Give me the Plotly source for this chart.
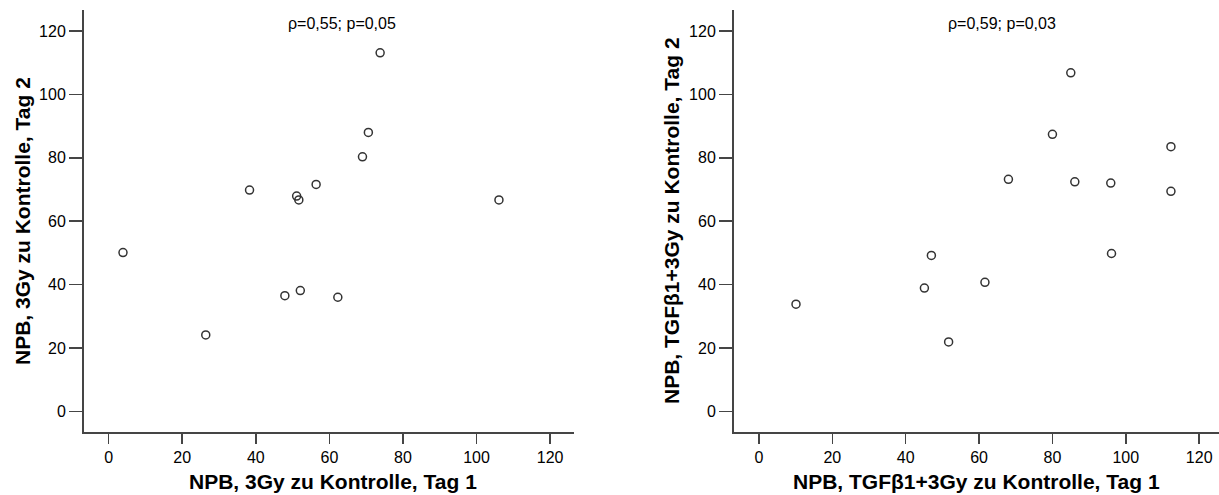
import plotly.graph_objects as go

# ---- data ----
left_x = [3.9, 26.4, 38.3, 47.9, 51.1, 51.7, 52.1, 56.4, 62.3, 69.0, 70.6, 73.8, 106.1]
left_y = [50.1, 24.1, 69.8, 36.5, 67.9, 66.7, 38.1, 71.6, 36.0, 80.3, 88.0, 113.1, 66.7]

right_x = [10.1, 45.1, 47.0, 51.7, 61.6, 68.0, 80.0, 85.0, 86.1, 95.9, 96.1, 112.3, 112.3]
right_y = [33.8, 38.9, 49.2, 21.9, 40.7, 73.2, 87.4, 106.8, 72.4, 72.0, 49.8, 83.5, 69.4]

tick_vals = [0, 20, 40, 60, 80, 100, 120]
tick_text = ["0", "20", "40", "60", "80", "100", "120"]

left_xtitle = "NPB, 3Gy zu Kontrolle, Tag 1"
left_ytitle = "NPB, 3Gy zu Kontrolle, Tag 2"
right_xtitle = "NPB, TGFβ1+3Gy zu Kontrolle, Tag 1"
right_ytitle = "NPB, TGFβ1+3Gy zu Kontrolle, Tag 2"
left_stat = "ρ=0,55; p=0,05"
right_stat = "ρ=0,59; p=0,03"

W, H = 1219, 495
FONT = "Arial, Liberation Sans, sans-serif"
AX = "#454545"
MK = "#333333"


def px(xp):
    return xp / W


def py(yp):
    return (H - yp) / H


fig = go.Figure()
marker = dict(symbol="circle-open", size=8, color=MK, line=dict(width=1.5, color=MK))
fig.add_trace(go.Scatter(x=left_x, y=left_y, mode="markers", marker=marker,
                         xaxis="x", yaxis="y", showlegend=False))
fig.add_trace(go.Scatter(x=right_x, y=right_y, mode="markers", marker=marker,
                         xaxis="x2", yaxis="y2", showlegend=False))

common = dict(showline=True, linecolor=AX, linewidth=2, ticks="outside",
              tickcolor=AX, tickwidth=1.5, showgrid=False, zeroline=False,
              tickvals=tick_vals, ticktext=tick_text,
              tickfont=dict(family=FONT, size=16, color="#000"),
              automargin=False, fixedrange=True)

ydom = [py(432), py(10)]
yrange = [-6.5, 126.6]

fig.update_layout(
    width=W, height=H, autosize=False,
    margin=dict(l=0, r=0, t=0, b=0),
    paper_bgcolor="white", plot_bgcolor="white",
    xaxis=dict(domain=[px(84), px(574)], range=[-6.7, 126.5], anchor="y",
               ticklen=10, **common),
    yaxis=dict(domain=ydom, range=yrange, anchor="x", ticklen=13, **common),
    xaxis2=dict(domain=[px(734), 1.0], range=[-6.8, 125.4], anchor="y2",
                ticklen=10, **common),
    yaxis2=dict(domain=ydom, range=yrange, anchor="x2", ticklen=13, **common),
)

tfont = dict(family=FONT, size=21, color="#000")
sfont = dict(family=FONT, size=16, color="#000")
ann = [
    dict(text="<b>" + left_xtitle + "</b>", x=px(333), y=py(481), font=tfont),
    dict(text="<b>" + right_xtitle + "</b>", x=px(976), y=py(481), font=tfont),
    dict(text="<b>" + left_ytitle + "</b>", x=px(22), y=py(221), font=tfont, textangle=-90),
    dict(text="<b>" + right_ytitle + "</b>", x=px(671), y=py(221), font=tfont, textangle=-90),
    dict(text=left_stat, x=px(342), y=py(24), font=sfont),
    dict(text=right_stat, x=px(1002), y=py(24), font=sfont),
]
for a in ann:
    a.update(xref="paper", yref="paper", showarrow=False,
             xanchor="center", yanchor="middle")
fig.update_layout(annotations=ann)

fig.write_html(
    "out.html",
    config={"displayModeBar": False, "staticPlot": True},
    post_script="document.body.style.margin='0';document.body.style.overflow='hidden';",
)
